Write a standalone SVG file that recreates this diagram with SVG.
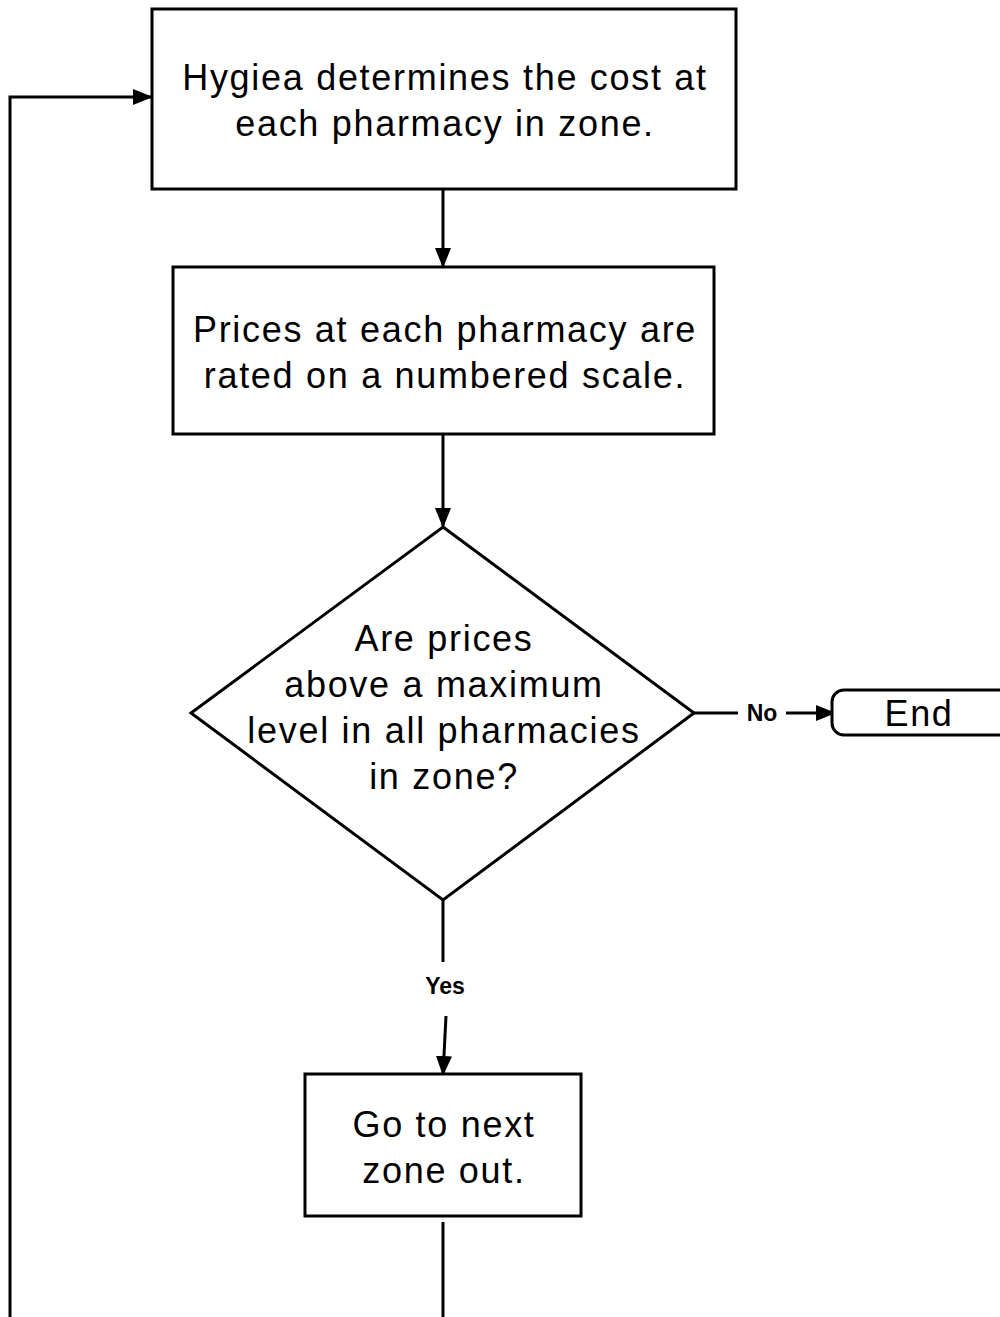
<svg xmlns="http://www.w3.org/2000/svg" width="1000" height="1317" viewBox="0 0 1000 1317">
<style>
.box{fill:#fff;stroke:#000;stroke-width:3}
.t{font-family:"Liberation Sans",Arial,sans-serif;font-size:36px;letter-spacing:1.7px;fill:#000;text-anchor:middle}
.lbl{font-family:"Liberation Sans",Arial,sans-serif;font-size:23px;font-weight:bold;fill:#000;text-anchor:middle}
.c{fill:none;stroke:#000;stroke-width:3}
</style>
<defs>
<marker id="ah" viewBox="0 0 20 16" refX="19" refY="8" markerWidth="20" markerHeight="16" markerUnits="userSpaceOnUse" orient="auto">
<path d="M0,0 L20,8 L0,16 Z" fill="#000"/>
</marker>
</defs>
<rect width="1000" height="1317" fill="#fff"/>
<g id="connectors">
<polyline class="c" points="10,1317 10,97 152,97" marker-end="url(#ah)"/>
<line class="c" x1="443" y1="189" x2="443" y2="267" marker-end="url(#ah)"/>
<line class="c" x1="443" y1="434" x2="443" y2="527" marker-end="url(#ah)"/>
<line class="c" x1="694" y1="713" x2="738" y2="713"/>
<line class="c" x1="786" y1="713" x2="835" y2="713" marker-end="url(#ah)"/>
<line class="c" x1="443" y1="900" x2="443" y2="962"/>
<line class="c" x1="446" y1="1016" x2="443" y2="1075" marker-end="url(#ah)"/>
<line class="c" x1="443" y1="1222" x2="443" y2="1317"/>
<text class="lbl" x="762" y="721">No</text>
<text class="lbl" x="445" y="994">Yes</text>
</g>
<g id="n1">
<rect class="box" x="152" y="9" width="584" height="180"/>
<text class="t" x="445" y="90">Hygiea determines the cost at</text>
<text class="t" x="445" y="136">each pharmacy in zone.</text>
</g>
<g id="n2">
<rect class="box" x="173" y="267" width="541" height="167"/>
<text class="t" x="445" y="342">Prices at each pharmacy are</text>
<text class="t" x="445" y="388">rated on a numbered scale.</text>
</g>
<g id="n3">
<polygon class="box" points="443,527 694,713 443,900 191,713"/>
<text class="t" x="444" y="651">Are prices</text>
<text class="t" x="444" y="697">above a maximum</text>
<text class="t" x="444" y="743">level in all pharmacies</text>
<text class="t" x="444" y="789">in zone?</text>
</g>
<g id="n4">
<rect class="box" x="832" y="690" width="190" height="45" rx="12"/>
<text class="t" x="919" y="726">End</text>
</g>
<g id="n5">
<rect class="box" x="305" y="1074" width="276" height="142"/>
<text class="t" x="444" y="1137">Go to next</text>
<text class="t" x="444" y="1183">zone out.</text>
</g>
</svg>
